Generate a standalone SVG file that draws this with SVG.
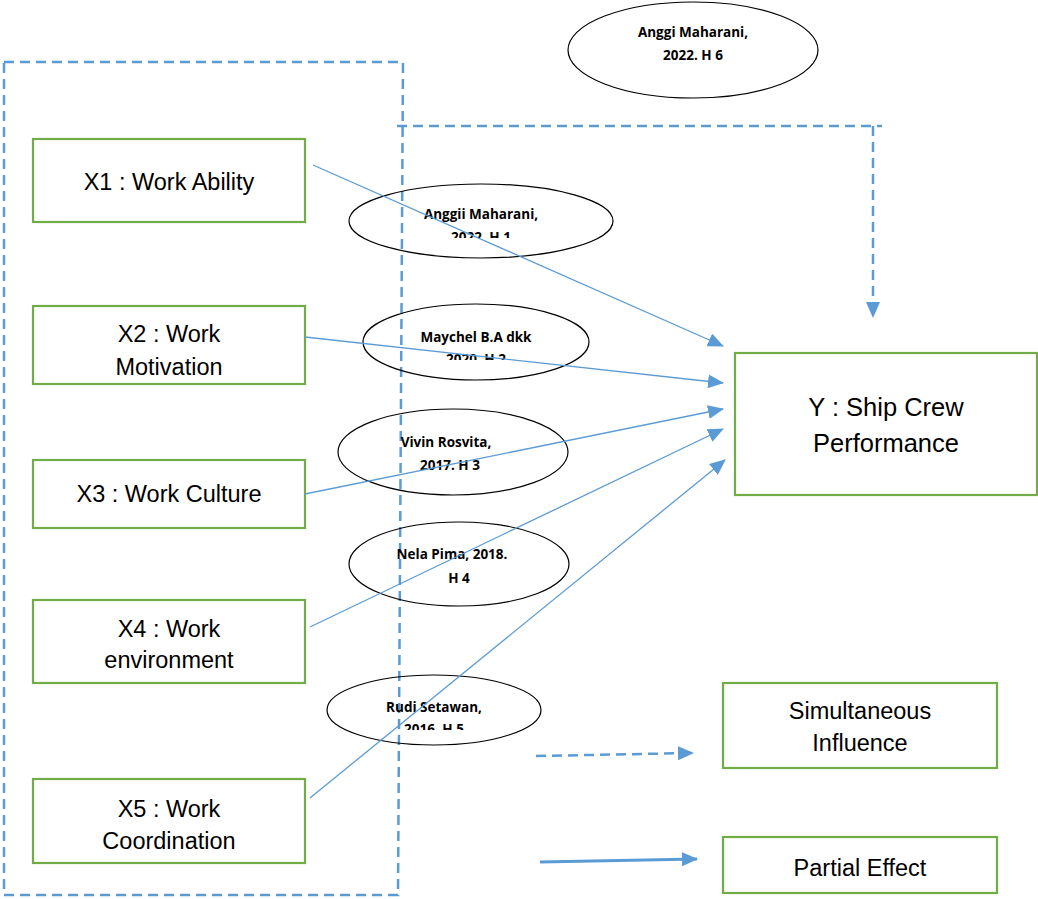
<svg xmlns="http://www.w3.org/2000/svg" width="1038" height="899" viewBox="0 0 1038 899">
<style>
.box{fill:#fff;stroke:#70AD47;stroke-width:2.2}
.ell{fill:none;stroke:#000;stroke-width:1.2}
.lbl{font-family:"Liberation Sans",Arial,sans-serif;font-size:23.5px;fill:#000;text-anchor:middle}
.big{font-size:25.5px}
.ref{font-family:"Open Sans","Liberation Sans",Arial,sans-serif;font-size:13.5px;font-weight:bold;fill:#000;text-anchor:middle}
.conn{stroke:#5B9BD5;stroke-width:1.3;fill:none}
.dash{stroke:#5B9BD5;stroke-width:2.5;fill:none;stroke-dasharray:10 6}
.thick{stroke:#5B9BD5;stroke-width:3;fill:none}
</style>
<defs>
<marker id="ah" markerUnits="userSpaceOnUse" markerWidth="16" markerHeight="14" refX="15" refY="7" orient="auto">
<path d="M0,0 L16,7 L0,14 Z" fill="#5B9BD5"/>
</marker>
<clipPath id="c1"><rect x="340" y="180" width="300" height="58"/></clipPath>
<clipPath id="c2"><rect x="340" y="300" width="300" height="60"/></clipPath>
<clipPath id="c5"><rect x="320" y="670" width="240" height="60"/></clipPath>
</defs>

<g id="frame">
<path class="dash" d="M4,62 L403,62 L398,895 L4,895 Z"/>
</g>

<g id="x1"><rect class="box" x="33" y="139" width="272" height="83"/>
<text class="lbl" x="169" y="190">X1 : Work Ability</text></g>
<g id="x2"><rect class="box" x="33" y="306" width="272" height="78"/>
<text class="lbl" x="169" y="342">X2 : Work</text>
<text class="lbl" x="169" y="375">Motivation</text></g>
<g id="x3"><rect class="box" x="33" y="460" width="272" height="68"/>
<text class="lbl" x="169" y="502">X3 : Work Culture</text></g>
<g id="x4"><rect class="box" x="33" y="600" width="272" height="83"/>
<text class="lbl" x="169" y="637">X4 : Work</text>
<text class="lbl" x="169" y="668">environment</text></g>
<g id="x5"><rect class="box" x="33" y="779" width="272" height="84"/>
<text class="lbl" x="169" y="817">X5 : Work</text>
<text class="lbl" x="169" y="849">Coordination</text></g>
<g id="y"><rect class="box" x="735" y="353" width="302" height="142"/>
<text class="lbl big" x="886" y="416">Y : Ship Crew</text>
<text class="lbl big" x="886" y="452">Performance</text></g>
<g id="simultaneous"><rect class="box" x="723" y="683" width="274" height="85"/>
<text class="lbl" x="860" y="719">Simultaneous</text>
<text class="lbl" x="860" y="751">Influence</text></g>
<g id="partial"><rect class="box" x="723" y="837" width="274" height="56"/>
<text class="lbl" x="860" y="876">Partial Effect</text></g>

<g id="h6"><ellipse class="ell" cx="693" cy="50" rx="125" ry="48"/>
<text class="ref" x="693" y="37">Anggi Maharani,</text>
<text class="ref" x="693" y="60">2022. H 6</text></g>
<g id="h1"><ellipse class="ell" cx="481" cy="221" rx="132" ry="37"/>
<g clip-path="url(#c1)"><text class="ref" x="481" y="219">Anggii Maharani,</text>
<text class="ref" x="481" y="242">2022. H 1</text></g></g>
<g id="h2"><ellipse class="ell" cx="476" cy="342" rx="113" ry="38"/>
<g clip-path="url(#c2)"><text class="ref" x="476" y="342">Maychel B.A dkk</text>
<text class="ref" x="476" y="364">2020. H 2</text></g></g>
<g id="h3"><ellipse class="ell" cx="453" cy="452" rx="115" ry="43"/>
<text class="ref" x="446" y="447">Vivin Rosvita,</text>
<text class="ref" x="450" y="470">2017.  H 3</text></g>
<g id="h4"><ellipse class="ell" cx="459" cy="564" rx="110" ry="42"/>
<text class="ref" x="452" y="559">Nela Pima, 2018.</text>
<text class="ref" x="459" y="583">H 4</text></g>
<g id="h5"><ellipse class="ell" cx="434" cy="710" rx="107" ry="35"/>
<g clip-path="url(#c5)"><text class="ref" x="434" y="712">Rudi Setawan,</text>
<text class="ref" x="434" y="734">2016. H 5</text></g></g>

<g id="connectors">
<path class="conn" d="M313,165 L723,346" marker-end="url(#ah)"/>
<path class="conn" d="M305,337 L723,383" marker-end="url(#ah)"/>
<path class="conn" d="M305,494 L723,409" marker-end="url(#ah)"/>
<path class="conn" d="M310,627 L723,429" marker-end="url(#ah)"/>
<path class="conn" d="M310,798 L725,460" marker-end="url(#ah)"/>
<path class="dash" d="M397,126 L882,126 M873,126 L873,317" marker-end="url(#ah)"/>
<path class="dash" d="M536,756 L693,753" marker-end="url(#ah)"/>
<path class="thick" d="M540,862 L697,859" marker-end="url(#ah)"/>
</g>
</svg>
